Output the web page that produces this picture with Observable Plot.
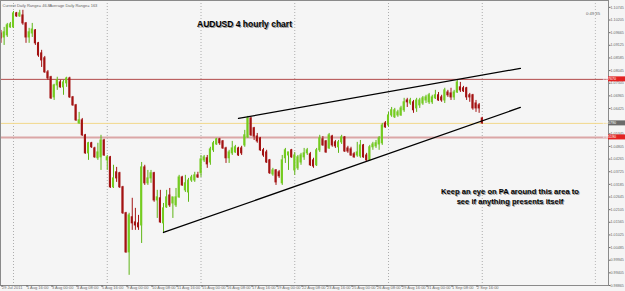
<!DOCTYPE html>
<html><head><meta charset="utf-8">
<script src="https://cdn.jsdelivr.net/npm/d3@7"></script>
<script src="https://cdn.jsdelivr.net/npm/@observablehq/plot@0.6"></script>
<style>
html,body{margin:0;padding:0;background:#f5f5f5;}
#chart svg{display:block;}
</style></head><body><div id="chart"></div>
<script>
// AUDUSD H4 candles, 29 Jul 2011 08:00 .. 5 Sep 2011 00:00 (index = bar number)
const open = [1.0963,1.0946,1.0955,1.0989,1.0989,1.1049,1.1036,1.1040,1.1006,1.0946,
1.0963,1.0976,1.0921,1.0878,1.0857,1.0797,1.0776,1.0690,1.0741,1.0754,
1.0733,1.0750,1.0771,1.0690,1.0656,1.0579,1.0592,1.0528,1.0451,1.0494,
1.0472,1.0430,1.0434,1.0506,1.0421,1.0434,1.0306,1.0370,1.0366,1.0306,
1.0195,1.0028,1.0178,1.0156,1.0152,1.0143,1.0391,1.0323,1.0344,1.0366,
1.0250,1.0259,1.0152,1.0220,1.0271,1.0237,1.0229,1.0263,1.0348,1.0293,
1.0284,1.0335,1.0335,1.0357,1.0366,1.0421,1.0430,1.0412,1.0464,1.0489,
1.0511,1.0502,1.0472,1.0430,1.0451,1.0455,1.0472,1.0472,1.0485,1.0519,
1.0600,1.0558,1.0523,1.0515,1.0464,1.0455,1.0421,1.0361,1.0378,1.0370,
1.0323,1.0430,1.0442,1.0464,1.0378,1.0387,1.0412,1.0434,1.0451,1.0447,
1.0421,1.0400,1.0464,1.0511,1.0502,1.0472,1.0523,1.0498,1.0477,1.0498,
1.0519,1.0472,1.0468,1.0447,1.0442,1.0438,1.0485,1.0442,1.0421,1.0477,
1.0481,1.0489,1.0494,1.0579,1.0570,1.0613,1.0605,1.0613,1.0613,1.0635,
1.0677,1.0664,1.0669,1.0643,1.0656,1.0664,1.0677,1.0669,1.0669,1.0686,
1.0699,1.0690,1.0677,1.0711,1.0707,1.0690,1.0711,1.0733,1.0729,1.0729,
1.0699,1.0699,1.0664,1.0656,1.0600];
const high = [1.0976,1.0989,1.1006,1.1010,1.1057,1.1053,1.1062,1.1062,1.1010,1.0985,
1.1006,1.0980,1.0925,1.0891,1.0865,1.0805,1.0780,1.0746,1.0776,1.0763,
1.0763,1.0776,1.0776,1.0694,1.0660,1.0626,1.0600,1.0532,1.0498,1.0498,
1.0477,1.0494,1.0528,1.0511,1.0442,1.0438,1.0400,1.0391,1.0370,1.0310,
1.0199,1.0195,1.0259,1.0216,1.0186,1.0412,1.0400,1.0378,1.0378,1.0370,
1.0293,1.0293,1.0237,1.0293,1.0301,1.0263,1.0301,1.0357,1.0353,1.0357,
1.0344,1.0357,1.0370,1.0370,1.0442,1.0442,1.0442,1.0477,1.0502,1.0515,
1.0515,1.0506,1.0477,1.0464,1.0502,1.0485,1.0477,1.0481,1.0549,1.0609,
1.0605,1.0562,1.0536,1.0519,1.0472,1.0464,1.0425,1.0387,1.0382,1.0378,
1.0442,1.0472,1.0455,1.0468,1.0455,1.0442,1.0451,1.0472,1.0472,1.0455,
1.0430,1.0472,1.0528,1.0523,1.0506,1.0536,1.0528,1.0506,1.0506,1.0528,
1.0523,1.0481,1.0477,1.0455,1.0498,1.0506,1.0489,1.0451,1.0485,1.0498,
1.0506,1.0523,1.0579,1.0587,1.0626,1.0647,1.0643,1.0635,1.0652,1.0686,
1.0686,1.0686,1.0677,1.0686,1.0686,1.0694,1.0699,1.0707,1.0699,1.0720,
1.0711,1.0699,1.0729,1.0720,1.0729,1.0720,1.0763,1.0754,1.0737,1.0733,
1.0707,1.0703,1.0677,1.0664,1.0605];
const low = [1.0921,1.0912,1.0946,1.0985,1.0985,1.1032,1.1032,1.0998,1.0921,1.0921,
1.0946,1.0912,1.0861,1.0818,1.0793,1.0763,1.0681,1.0677,1.0720,1.0729,
1.0699,1.0733,1.0686,1.0652,1.0587,1.0575,1.0523,1.0447,1.0421,1.0472,
1.0430,1.0421,1.0378,1.0438,1.0378,1.0301,1.0301,1.0327,1.0301,1.0190,
1.0024,0.9930,1.0122,1.0122,1.0122,1.0066,1.0314,1.0314,1.0323,1.0242,
1.0173,1.0152,1.0113,1.0216,1.0220,1.0173,1.0220,1.0259,1.0310,1.0284,
1.0242,1.0327,1.0327,1.0344,1.0348,1.0412,1.0387,1.0400,1.0455,1.0485,
1.0485,1.0468,1.0408,1.0408,1.0442,1.0451,1.0438,1.0442,1.0477,1.0515,
1.0523,1.0506,1.0494,1.0459,1.0434,1.0408,1.0361,1.0353,1.0314,1.0344,
1.0314,1.0408,1.0378,1.0430,1.0357,1.0378,1.0400,1.0421,1.0442,1.0395,
1.0387,1.0395,1.0455,1.0481,1.0451,1.0468,1.0477,1.0472,1.0451,1.0489,
1.0455,1.0451,1.0438,1.0430,1.0434,1.0430,1.0430,1.0417,1.0417,1.0464,
1.0472,1.0464,1.0485,1.0558,1.0562,1.0605,1.0600,1.0605,1.0609,1.0626,
1.0647,1.0656,1.0622,1.0626,1.0643,1.0656,1.0664,1.0660,1.0660,1.0681,
1.0673,1.0669,1.0664,1.0690,1.0677,1.0677,1.0707,1.0711,1.0711,1.0677,
1.0669,1.0635,1.0626,1.0622,1.0575];
const close = [1.0942,1.0968,1.0998,1.1002,1.1049,1.1036,1.1049,1.1006,1.0946,1.0968,
1.0980,1.0921,1.0869,1.0848,1.0797,1.0771,1.0686,1.0741,1.0763,1.0733,
1.0754,1.0771,1.0690,1.0656,1.0592,1.0592,1.0528,1.0451,1.0494,1.0477,
1.0434,1.0455,1.0506,1.0442,1.0434,1.0306,1.0344,1.0344,1.0306,1.0195,
1.0028,1.0186,1.0152,1.0143,1.0135,1.0391,1.0323,1.0344,1.0366,1.0250,
1.0263,1.0156,1.0216,1.0263,1.0229,1.0263,1.0263,1.0348,1.0314,1.0323,
1.0335,1.0348,1.0357,1.0348,1.0425,1.0434,1.0404,1.0468,1.0494,1.0511,
1.0494,1.0472,1.0430,1.0455,1.0472,1.0477,1.0442,1.0451,1.0528,1.0600,
1.0528,1.0523,1.0502,1.0464,1.0442,1.0412,1.0366,1.0378,1.0327,1.0353,
1.0421,1.0464,1.0455,1.0434,1.0442,1.0434,1.0442,1.0451,1.0464,1.0400,
1.0395,1.0464,1.0515,1.0485,1.0455,1.0528,1.0485,1.0481,1.0498,1.0519,
1.0459,1.0459,1.0442,1.0434,1.0455,1.0485,1.0434,1.0421,1.0477,1.0489,
1.0494,1.0515,1.0570,1.0562,1.0613,1.0635,1.0635,1.0626,1.0643,1.0669,
1.0669,1.0677,1.0635,1.0677,1.0677,1.0686,1.0690,1.0699,1.0690,1.0699,
1.0677,1.0677,1.0720,1.0699,1.0690,1.0711,1.0754,1.0720,1.0716,1.0690,
1.0690,1.0643,1.0643,1.0643,1.0579];

const xTickIndex = [0,8,16,24,32,40,48,56,64,72,80,88,96,104,112,120,128,136,144,152];
const xTickLabels = ["29 Jul 2011","1 Aug 16:00","3 Aug 00:00","4 Aug 08:00","5 Aug 16:00","9 Aug 00:00",
  "10 Aug 08:00","11 Aug 16:00","15 Aug 00:00","16 Aug 08:00","17 Aug 16:00","19 Aug 00:00",
  "22 Aug 08:00","23 Aug 16:00","25 Aug 00:00","26 Aug 08:00","29 Aug 16:00","31 Aug 00:00",
  "1 Sep 08:00","2 Sep 16:00"];
const weekGridIndex = [4,34,64,94,124,154];
const shiftLineIndex = [190.2];
// 1.05885 sits behind the bid box in the reference, so it is not listed
const yTicks = [0.98865,0.99405,0.99945,1.00485,1.01025,1.01565,1.02105,1.02645,1.03185,1.03725,
  1.04265,1.04805,1.05345,1.06425,1.06965,1.07505,1.08045,1.08585,1.09125,1.09665,1.10205,1.10745];
const resistanceLevel = 1.0767;
const bidLevel = 1.0579;
const supportLevel = 1.0519;
const priceBoxLabels = ["1.07670","1.05790","1.05190"];
const trendIndex = [[76, 166.2],[52, 166.2]];
const trendPrice = [[1.0600, 1.0814],[1.0113, 1.0647]];
const infoTexts = ["Current Daily Range= 46.8", "Average Daily Range= 163"];
const titleText = "AUDUSD 4 hourly chart";
const noteText = "Keep an eye on PA around this area to\nsee if anything presents itself";
const timerText = "0:49:35";

const candles = open.map((o, i) => ({i, open: o, high: high[i], low: low[i], close: close[i], up: close[i] >= o}));
const trendPts = trendIndex.flatMap((xs, k) => xs.map((x, j) => ({k, x, p: trendPrice[k][j]})));

const FONT = "'Liberation Sans', Arial, sans-serif";
const GREEN = "#74cc1f", GREEN_W = "#5fb516", RED = "#a31212";

const chart = Plot.plot({
  width: 625, height: 291,
  marginLeft: 0, marginRight: 17, marginTop: 0, marginBottom: 6,
  style: {background: "#f5f5f5", fontFamily: FONT, overflow: "visible"},
  x: {domain: [-0.16, 194.4], axis: null},
  y: {domain: [0.98865, 1.11039], axis: null},
  marks: [
    Plot.ruleX(weekGridIndex, {stroke: "#9a9a9a", strokeDasharray: "1,2", strokeWidth: 0.8}),
    Plot.ruleX(shiftLineIndex, {stroke: "#a8a8a8", strokeDasharray: "1,2", strokeWidth: 0.8}),
    Plot.ruleY([resistanceLevel], {stroke: "#b24a4a", strokeWidth: 1}),
    Plot.ruleY([supportLevel], {stroke: "#dba6a6", strokeWidth: 2}),
    Plot.ruleY([bidLevel], {stroke: "#f2d88a", strokeWidth: 1}),
    Plot.ruleX(candles, {x: "i", y1: "low", y2: "high", stroke: d => d.up ? GREEN_W : RED, strokeWidth: 1}),
    Plot.rect(candles, {
      x1: d => d.i - 0.33, x2: d => d.i + 0.33,
      y1: d => Math.min(d.open, d.close), y2: d => Math.max(d.open, d.close),
      fill: d => d.up ? GREEN : RED, insetTop: -0.5, insetBottom: -0.5
    }),
    Plot.line(trendPts, {x: "x", y: "p", z: "k", stroke: "#000", strokeWidth: 1.3}),
    Plot.frame({stroke: "#8a8a8a", strokeWidth: 1}),
    Plot.axisY({anchor: "right", ticks: yTicks, tickFormat: d => d.toFixed(5), tickSize: 1.5, tickPadding: 0.5,
      fontSize: 3.7, color: "#6a6a6a"}),
    Plot.axisX({anchor: "bottom", ticks: xTickIndex, tickFormat: d => xTickLabels[xTickIndex.indexOf(d)],
      tickSize: 2, tickPadding: -1.5, fontSize: 4, textAnchor: "start", dx: 1, color: "#6a6a6a"}),
    Plot.text([infoTexts[0]], {frameAnchor: "top-left", dx: 2, dy: 3.5, textAnchor: "start", fontSize: 4, fill: "#666"}),
    Plot.text([infoTexts[1]], {frameAnchor: "top-left", dx: 49, dy: 3.5, textAnchor: "start", fontSize: 4, fill: "#666"}),
    Plot.text([titleText], {frameAnchor: "top-left", dx: 245, dy: 21, textAnchor: "middle", fontSize: 8.5, fontWeight: "bold", fill: "#9a9a9a"}),
    Plot.text([titleText], {frameAnchor: "top-left", dx: 244, dy: 20, textAnchor: "middle", fontSize: 8.5, fontWeight: "bold", fill: "#000"}),
    Plot.text([noteText], {frameAnchor: "top-left", dx: 510.5, dy: 188.5, textAnchor: "middle", fontSize: 7.6, fontWeight: "bold", lineHeight: 1.2, fill: "#9a9a9a"}),
    Plot.text([noteText], {frameAnchor: "top-left", dx: 509.5, dy: 187.5, textAnchor: "middle", fontSize: 7.6, fontWeight: "bold", lineHeight: 1.2, fill: "#000"}),
    Plot.text([timerText], {frameAnchor: "top-right", dx: -15.5, dy: 12, textAnchor: "middle", fontSize: 4.2, fill: "#666"})
  ]
});

// price label boxes on the right axis, placed with the chart's own y scale
const ys = chart.scale("y");
const boxLevels = [resistanceLevel, bidLevel, supportLevel];
const boxFill = ["#e32222", "#6b6b6b", "#e32222"];
const svg = d3.select(chart);
boxLevels.forEach((v, k) => {
  const y = ys.apply(v);
  svg.append("rect").attr("x", 608).attr("y", y - 2.5).attr("width", 17).attr("height", 5).attr("fill", boxFill[k]);
  svg.append("text").attr("x", 609.5).attr("y", y + 1.3).attr("font-size", 3.7).attr("fill", "#fff")
    .attr("font-family", FONT).text(priceBoxLabels[k]);
});
document.getElementById("chart").appendChild(chart);
</script></body></html>
